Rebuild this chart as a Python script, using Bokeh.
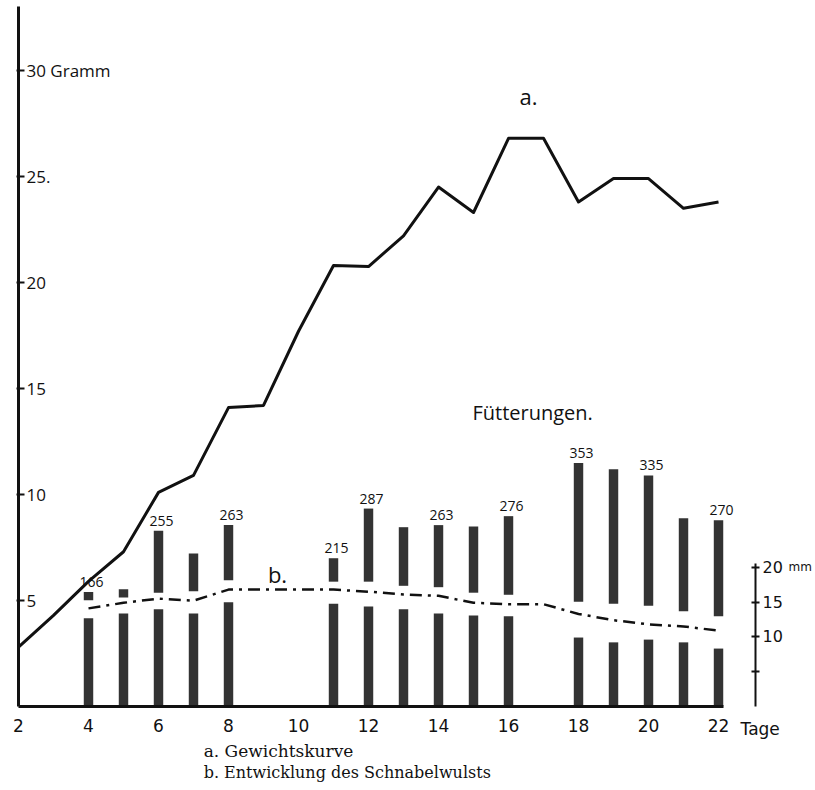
from bokeh.plotting import figure
from bokeh.models import Range1d, LinearAxis, FixedTicker, Label
from bokeh.embed import file_html
from bokeh.resources import INLINE
from bokeh.core.properties import value

# --- data ---
# a. Gewichtskurve (Gramm) per Tag
days_a = list(range(2, 23))
weight_g = [2.8, 4.3, 5.9, 7.3, 10.1, 10.9, 14.1, 14.2, 17.7, 20.8, 20.75,
            22.2, 24.5, 23.3, 26.8, 26.8, 23.8, 24.9, 24.9, 23.5, 23.8]

# b. Entwicklung des Schnabelwulsts (mm) per Tag
days_b = list(range(4, 23))
beak_mm = [14.1, 14.9, 15.5, 15.2, 16.8, 16.8, 16.8, 16.8, 16.5, 16.1, 15.9,
           14.9, 14.7, 14.7, 13.3, 12.4, 11.8, 11.5, 10.9]

# Fütterungen (number of feedings) per Tag
feed_days = [4, 5, 6, 7, 8, 11, 12, 13, 14, 15, 16, 18, 19, 20, 21, 22]
feedings = [166, 170, 255, 222, 263, 215, 287, 260, 263, 261, 276, 353, 344, 335, 273, 270]
# bars are interrupted where curve b crosses them (split points, feeding units)
upper_start = [154, 158, 165, 167, 183, 181, 181, 175, 173, 165, 162, 152, 149, 146, 138, 131]
lower_end = [128, 135, 141, 135, 151, 149, 145, 141, 135, 132, 131, 100, 93, 97, 93, 84]
labeled_days = [4, 6, 8, 11, 12, 14, 16, 18, 20, 22]

x_ticks = list(range(2, 23, 2))
gram_ticks = [5, 10, 15, 20, 25, 30]
gram_overrides = {25: "25.", 30: "30 Gramm"}
mm_ticks = [5, 10, 15, 20]
mm_overrides = {5: " "}

label_vals = [feedings[feed_days.index(d)] for d in labeled_days]
label_txt = [str(v) for v in label_vals]

INK = "#111111"
BAR = "#333333"
HAND = "Open Sans"

# frame covers the whole canvas; axes are pinned with fixed_location
p = figure(width=815, height=790, output_backend="svg", toolbar_location=None,
           title=None, x_axis_location=None, y_axis_location=None,
           x_range=Range1d(1.4857, 24.771), y_range=Range1d(-3.962, 33.30),
           min_border=0)
p.extra_y_ranges = {"fut": Range1d(-121.8, 1023.7), "mm": Range1d(-12.07, 101.44)}
p.outline_line_color = None
p.background_fill_color = "white"
p.border_fill_color = "white"
p.grid.visible = False

# Gramm axis (ticks and labels on the inner side)
ga = LinearAxis(ticker=FixedTicker(ticks=gram_ticks), fixed_location=2, bounds=(0, 33.0),
                major_label_overrides=gram_overrides)
ga.axis_line_width = 3
ga.axis_line_color = INK
ga.major_tick_in = 2
ga.major_tick_out = 6
ga.major_tick_line_width = 2
ga.major_tick_line_color = INK
ga.minor_tick_line_color = None
ga.major_label_text_font = HAND
ga.major_label_text_font_size = "17px"
ga.major_label_text_color = INK
ga.major_label_standoff = 2
p.add_layout(ga, "right")

# Tage axis
xa = LinearAxis(ticker=FixedTicker(ticks=x_ticks), fixed_location=0, bounds=(2, 22.15))
xa.axis_line_width = 3
xa.axis_line_color = INK
xa.major_tick_in = 0
xa.major_tick_out = 0
xa.minor_tick_line_color = None
xa.major_label_text_font = "DejaVu Sans"
xa.major_label_text_font_size = "17px"
xa.major_label_text_color = INK
xa.major_label_standoff = 12
p.add_layout(xa, "below")

# mm axis
ra = LinearAxis(y_range_name="mm", ticker=FixedTicker(ticks=mm_ticks), bounds=(0, 20.5),
                fixed_location=23.057, major_label_overrides=mm_overrides)
ra.axis_line_width = 2
ra.axis_line_color = INK
ra.major_tick_in = 4
ra.major_tick_out = 4
ra.major_tick_line_width = 2
ra.major_tick_line_color = INK
ra.minor_tick_line_color = None
ra.major_label_text_font = "DejaVu Sans"
ra.major_label_text_font_size = "16px"
ra.major_label_text_color = INK
ra.major_label_standoff = 3
p.add_layout(ra, "right")
p.add_layout(Label(x=23.057, y=20, y_range_name="mm", x_offset=33, text="mm",
                   text_align="left", text_baseline="middle", text_font="DejaVu Sans",
                   text_font_size="12px", text_color=INK))

# feeding bars (two pieces around curve b)
p.vbar(x=feed_days, width=0.27, bottom=0, top=lower_end, y_range_name="fut",
       fill_color=BAR, line_color=None)
p.vbar(x=feed_days, width=0.27, bottom=upper_start, top=feedings, y_range_name="fut",
       fill_color=BAR, line_color=None)
p.text(x=labeled_days, y=label_vals, text=label_txt, y_range_name="fut",
       x_offset=3, y_offset=-5, text_align="center", text_baseline="bottom",
       text_font=value(HAND), text_font_size="14px", text_color=INK)

# curves
p.line(days_b, beak_mm, y_range_name="mm", line_color=INK, line_width=2.5,
       line_dash="12 6 3 6")
p.line(days_a, weight_g, line_color=INK, line_width=3, line_join="round")

# annotations
p.add_layout(Label(x=16.57, y=28.8, text="a.", text_align="center", text_baseline="middle",
                   text_font=HAND, text_font_size="22px", text_color=INK))
p.add_layout(Label(x=9.4, y=6.25, text="b.", text_align="center", text_baseline="middle",
                   text_font=HAND, text_font_size="22px", text_color=INK))
p.add_layout(Label(x=16.69, y=13.87, text="Fütterungen.", text_align="center",
                   text_baseline="middle", text_font=HAND, text_font_size="20px",
                   text_color=INK))
p.add_layout(Label(x=22.63, y=-1.04, text="Tage", text_align="left", text_baseline="middle",
                   text_font="DejaVu Sans", text_font_size="17px", text_color=INK))
p.add_layout(Label(x=7.29, y=-2.08, text="a. Gewichtskurve", text_align="left",
                   text_baseline="middle", text_font="DejaVu Serif", text_font_size="17px",
                   text_color=INK))
p.add_layout(Label(x=7.29, y=-3.12, text="b. Entwicklung des Schnabelwulsts",
                   text_align="left", text_baseline="middle", text_font="DejaVu Serif",
                   text_font_size="16px", text_color=INK))

open("out.html", "w").write(file_html(p, INLINE))
